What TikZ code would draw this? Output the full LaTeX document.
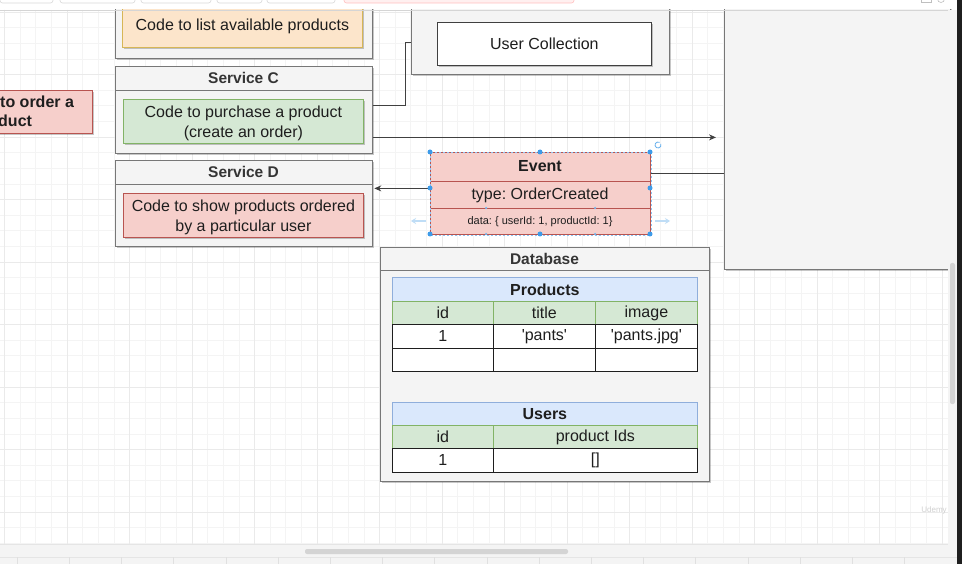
\documentclass[tikz,border=0pt]{standalone}
\usepackage{fontspec}
\setmainfont{Liberation Sans}
\usetikzlibrary{arrows.meta,shadows,calc}
\definecolor{cText}{HTML}{1E1E1E}
\definecolor{cOutF}{HTML}{F4F4F4}
\definecolor{cOutL}{HTML}{777777}
\definecolor{cOrF}{HTML}{FCE5CB}
\definecolor{cOrL}{HTML}{D6B656}
\definecolor{cGrF}{HTML}{D5E8D4}
\definecolor{cGrL}{HTML}{82B366}
\definecolor{cRdF}{HTML}{F6CFCB}
\definecolor{cRdL}{HTML}{B85450}
\definecolor{cBlF}{HTML}{DAE8FC}
\definecolor{cBlL}{HTML}{8FAEDB}
\definecolor{cGridMinor}{HTML}{F4F4F4}
\definecolor{cGridMajor}{HTML}{EAEAEA}
\definecolor{cSel}{HTML}{3D9BE9}
\definecolor{cSelLight}{HTML}{BFDDF6}
\newcommand\myfs{\fontsize{16}{19.5}\selectfont\frenchspacing}
\newcommand\myhs{\fontsize{15.5}{18}\selectfont}
\newcommand\boxat[7]{\node[box,#6,minimum width=#4pt,minimum height=#5pt] (#1) at (#2,#3) {#7};}
\begin{document}
\frenchspacing
\begin{tikzpicture}[x=1pt,y=-1pt,
  box/.style={draw, line width=0.8pt, inner sep=0pt, anchor=north west, align=center, font=\myfs, text=cText},
  codetext/.style={font=\myfs, text=cText, align=center, inner sep=0pt, yshift=-2pt},
  shad/.style={drop shadow={shadow xshift=2pt,shadow yshift=-2pt,opacity=0.22,fill=black}},
  outer/.style={fill=cOutF, draw=cOutL, shad},
  orangebox/.style={fill=cOrF, draw=cOrL, shad},
  greenbox/.style={fill=cGrF, draw=cGrL, shad},
  redbox/.style={fill=cRdF, draw=cRdL, shad},
  whitebox/.style={fill=white, draw=cText!85, shad},
  ttl/.style={fill=cBlF, draw=cBlL},
  hdr/.style={fill=cGrF, draw=cGrL},
  cellw/.style={fill=white, draw=cText},
  hdrtext/.style={font=\myhs\bfseries, text=cText!90, inner sep=0pt},
  edge/.style={draw=cText!85, line width=0.9pt},
  arr/.style={-{Stealth[length=7pt,width=6pt]}},
  seldot/.style={circle, fill=cSel, inner sep=0pt, minimum size=5pt},
  seldotsmall/.style={circle, fill=cSel!70, inner sep=0pt, minimum size=2.5pt},
]
\useasboundingbox (0,0) rectangle (962,564);
\begin{scope}
\clip (0,0) rectangle (962,564);
% canvas and grid
\fill[white] (0,0) rectangle (962,564);
\foreach \i in {0,...,60} \draw[cGridMinor, line width=0.6pt] ({4.5+15.625*\i},10) -- ({4.5+15.625*\i},544);
\foreach \j in {0,...,34} \draw[cGridMinor, line width=0.6pt] (0,{12+15.625*\j}) -- (948,{12+15.625*\j});
\foreach \i in {0,...,15} \draw[cGridMajor, line width=0.8pt] ({4.5+62.5*\i},10) -- ({4.5+62.5*\i},544);
\foreach \j in {0,...,8} \draw[cGridMajor, line width=0.8pt] (0,{12+62.5*\j}) -- (948,{12+62.5*\j});

% right panel
\node[box, outer, minimum width=226pt, minimum height=289pt] (rightPanel) at (724,-20) {};

% Service A (top, cut off)
\boxat{svcA}{115}{-40}{257}{98}{outer}{}
\boxat{svcAcode}{122}{1}{240}{46}{orangebox}{}
\node[codetext] (svcAtext) at (svcAcode.center) {Code to list available products};

% User collection container
\boxat{userOuter}{411}{-40}{258}{114}{outer}{}
\boxat{userColl}{437}{22}{214}{43}{whitebox}{User Collection}

% pink box on the left
\node[box, redbox, minimum width=110pt, minimum height=43pt] (orderBox) at (-18,90) {};
\node[anchor=west, inner sep=0pt, font=\myfs\bfseries, text=cText] (orderT1) at (0,102) {to order a};
\node[anchor=west, inner sep=0pt, font=\myfs\bfseries, text=cText] (orderT2) at (-2,121) {duct};

% Service C
\boxat{svcC}{115}{66}{257}{87}{outer}{}
\draw[cOutL, line width=0.8pt] (svcC.west |- 0,90) -- (svcC.east |- 0,90);
\node[hdrtext] (svcCtitle) at (243.5,78) {Service C};
\boxat{svcCcode}{123}{99}{240}{44}{greenbox}{}
\node[codetext] (svcCtext) at (svcCcode.center) {Code to purchase a product\\(create an order)};

% Service D
\boxat{svcD}{115}{160}{257}{86}{outer}{}
\draw[cOutL, line width=0.8pt] (svcD.west |- 0,184) -- (svcD.east |- 0,184);
\node[hdrtext] (svcDtitle) at (243.5,172) {Service D};
\boxat{svcDcode}{123}{193}{240}{44}{redbox}{}
\node[codetext] (svcDtext) at (svcDcode.center) {Code to show products ordered\\by a particular user};

% Event
\boxat{evt}{430}{152}{220}{82}{fill=cRdF, draw=cRdL}{}
\draw[cRdL, line width=0.8pt] (evt.west |- 0,181) -- (evt.east |- 0,181);
\draw[cRdL, line width=0.8pt] (evt.west |- 0,208) -- (evt.east |- 0,208);
\draw[cSel!60, line width=0.5pt, dash pattern=on 2pt off 2pt] (evt.north west) rectangle (evt.south east);
\node[font=\myfs\bfseries, text=cText, inner sep=0pt] (evtTitle) at (540,166) {Event};
\node[font=\myfs, text=cText, inner sep=0pt] (evtType) at (540,195) {type: OrderCreated};
\node[font=\fontsize{11}{13}\selectfont\frenchspacing, text=cText, inner sep=0pt] (evtData) at (540,222) {data: \{ userId: 1, productId: 1\}};

% Database
\boxat{db}{380}{247}{329}{234}{outer}{}
\draw[cOutL, line width=0.8pt] (db.west |- 0,270) -- (db.east |- 0,270);
\node[hdrtext] (dbTitle) at (544.5,258.5) {Database};

\boxat{pTitle}{392}{277}{305}{24}{ttl}{\textbf{Products}}
\boxat{pH1}{392}{301}{101}{23}{hdr}{id}
\boxat{pH2}{493}{301}{102}{23}{hdr}{title}
\boxat{pH3}{595}{301}{102}{23}{hdr}{image}
\boxat{pR1}{392}{324}{101}{24}{cellw}{1}
\boxat{pR2}{493}{324}{102}{24}{cellw}{\textquotesingle pants\textquotesingle}
\boxat{pR3}{595}{324}{102}{24}{cellw}{\textquotesingle pants.jpg\textquotesingle}
\boxat{pE1}{392}{348}{101}{23}{cellw}{}
\boxat{pE2}{493}{348}{102}{23}{cellw}{}
\boxat{pE3}{595}{348}{102}{23}{cellw}{}

\boxat{uTitle}{392}{402}{305}{23}{ttl}{\textbf{Users}}
\boxat{uH1}{392}{425}{101}{23}{hdr}{id}
\boxat{uH2}{493}{425}{204}{23}{hdr}{product Ids}
\boxat{uR1}{392}{448}{101}{24}{cellw}{1}
\boxat{uR2}{493}{448}{204}{24}{cellw}{[]}

% connectors
\draw[edge] ([yshift=4pt]svcC.east) -- ++(33,0) |- ([yshift=-25pt]userOuter.west);
\draw[edge, arr, shorten >=8pt] ([yshift=-27.5pt]svcC.east) coordinate (c2) -- (c2 -| rightPanel.west);
\draw[edge] ([yshift=20pt]evt.east) coordinate (c3) -- (c3 -| rightPanel.west);
\draw[edge, arr, shorten >=1.5pt] ([yshift=5pt]evt.west) coordinate (c4) -- (c4 -| svcD.east);

% selection handles
\foreach \p in {(430,152),(540,152),(650,152),(430,188),(650,188),(430,234),(540,234),(650,234)}
  \node[seldot] at \p {};
\foreach \p in {(486,208),(595,208),(486,234),(595,234)}
  \node[seldotsmall] at \p {};
\draw[cSel!80, line width=0.8pt] (658,145) ++(60:3pt) arc[start angle=60, end angle=380, radius=3pt];
\draw[cSelLight, line width=1.5pt, -{Stealth[length=5pt,width=6pt]}] (426,221) -- (411,221);
\draw[cSelLight, line width=1.5pt, -{Stealth[length=5pt,width=6pt]}] (655,221) -- (670,221);

% editor chrome
\fill[white] (0,0) rectangle (957,9.5);
\draw[cGridMajor!80!gray, line width=0.6pt] (0,10) -- (948,10);
\foreach \a/\b in {0/53,60/135,141/211,217/262,267/335}
  \draw[black!15, line width=0.6pt, rounded corners=2.5pt] (\a,-6) rectangle (\b,3);
\draw[red!25, fill=red!6, line width=0.6pt, rounded corners=2.5pt] (344,-6) rectangle (574,3);
\draw[black!25, line width=0.6pt] (921,-3) rectangle (931,2);
\draw[black!25, line width=0.6pt] (941,-1) circle (3.5pt);
\fill[cOutF] (948,10) rectangle (957,544);
\fill[black!17, rounded corners=2pt] (950,263) rectangle (955,404);
\fill[cOutF] (0,544) rectangle (957,564);
\draw[black!10, line width=0.6pt] (0,544) -- (948,544);
\fill[black!17, rounded corners=2pt] (305,549) rectangle (568,554);
\draw[black!10, line width=0.6pt] (0,557) -- (957,557);
\foreach \i in {0,...,17} \draw[black!12, line width=0.6pt] ({17+52.2*\i},557) -- ({17+52.2*\i},564);
\fill[black!88] (957,0) rectangle (962,564);
\node[font=\fontsize{8}{9}\selectfont, text=black!18, inner sep=0pt] (wm) at (934,510) {Udemy};
\end{scope}
\end{tikzpicture}
\end{document}
